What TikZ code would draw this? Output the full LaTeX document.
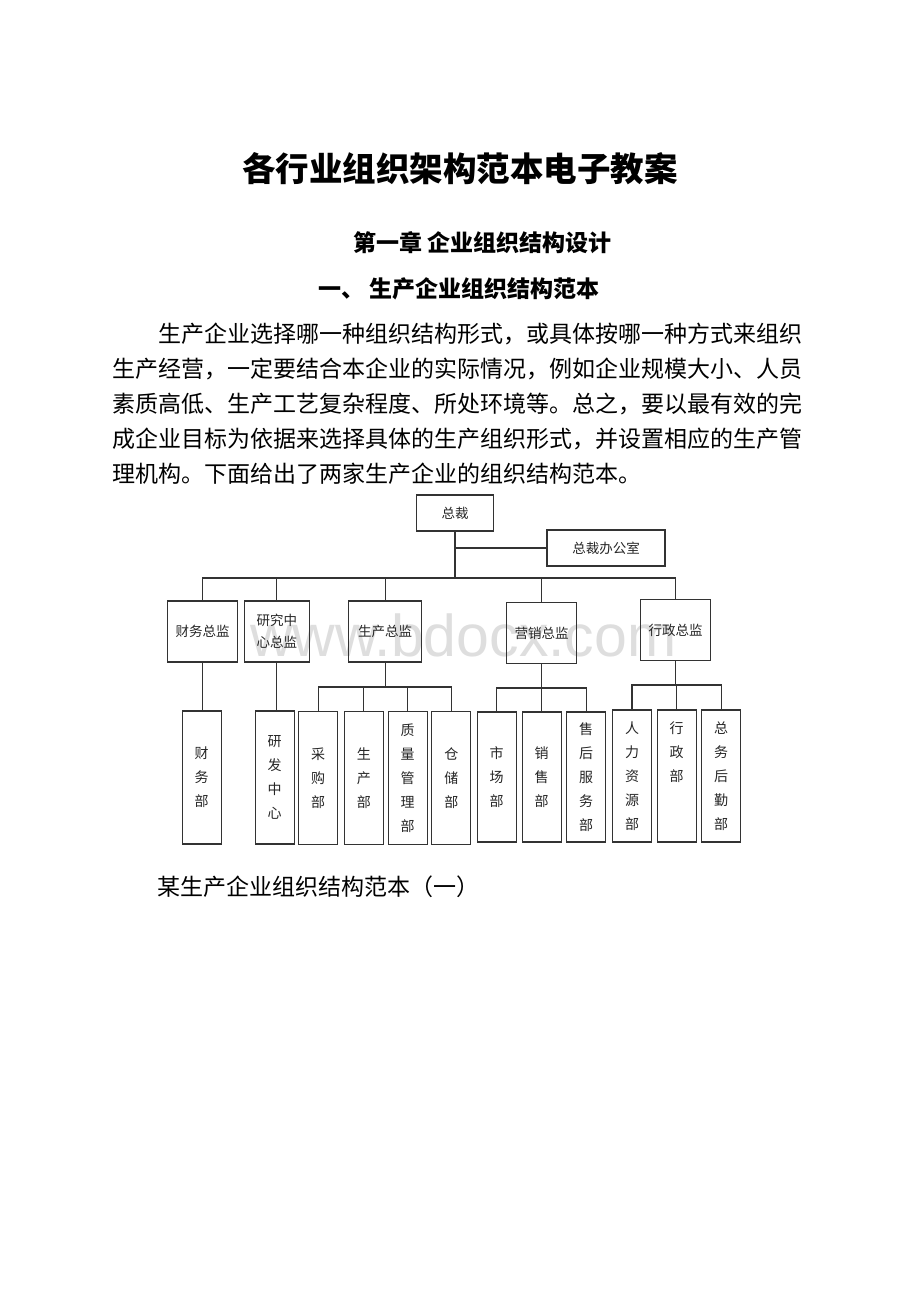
\documentclass[tikz,border=0pt]{standalone}
\usepackage{fontspec}
\setmainfont{Liberation Serif}
\newfontfamily\cjk{Noto Sans CJK SC}
\newfontfamily\wmfont{Liberation Sans}
\begin{document}
\begin{tikzpicture}[x=1pt,y=-1pt,
  line/.style={draw=black!80, line width=1.2pt, line cap=rect},
  box/.style={draw=black!80, line width=1.2pt, inner sep=0pt, align=center,
    font=\cjk\fontsize{13.5}{22}\selectfont, text=black!85},
  l2/.style={box, minimum height=61pt},
  vbox/.style={box, minimum width=39pt, minimum height=133pt,
    font=\cjk\fontsize{14}{24}\selectfont},
  para/.style={anchor=west, inner sep=0pt, font=\cjk\fontsize{23}{23}\selectfont},
  head/.style={anchor=west, inner sep=0pt, font=\cjk\bfseries\fontsize{23}{23}\selectfont}
]
\fill[white] (0,0) rectangle (920,1302);
\useasboundingbox (0,0) rectangle (920,1302);

% headings
\node[inner sep=0pt, font=\cjk\bfseries\fontsize{33.5}{33.5}\selectfont] (title) at (460,169) {各行业组织架构范本电子教案};
\node[head] (chap) at (353,243) {第一章 企业组织结构设计};
\node[head] (sect) at (318,289) {一、 生产企业组织结构范本};

% paragraph
\node[para] (p1) at (158,334) {生产企业选择哪一种组织结构形式，或具体按哪一种方式来组织};
\node[para] (p2) at (112,369) {生产经营，一定要结合本企业的实际情况，例如企业规模大小、人员};
\node[para] (p3) at (112,404) {素质高低、生产工艺复杂程度、所处环境等。总之，要以最有效的完};
\node[para] (p4) at (112,439) {成企业目标为依据来选择具体的生产组织形式，并设置相应的生产管};
\node[para] (p5) at (112,474) {理机构。下面给出了两家生产企业的组织结构范本。};

% watermark
\node[anchor=base west, inner sep=0pt, font=\wmfont\fontsize{59}{59}\selectfont, text=black!13] (wm) at (250,656) {www.bdocx.com};

% level 1
\node[box, minimum width=77pt, minimum height=36pt] (zc) at (455,513) {总裁};
\node[box, minimum width=118pt, minimum height=36pt] (office) at (606,548) {总裁办公室};

% level 2
\node[l2, minimum width=70pt] (cwzj) at (202.7,631.5) {财务总监};
\node[l2, minimum width=65pt] (yjzj) at (276.8,631.5) {研究中\\心总监};
\node[l2, minimum width=73pt] (sczj) at (385.2,631.5) {生产总监};
\node[l2, minimum width=70pt] (yxzj) at (541.7,633) {营销总监};
\node[l2, minimum width=70pt] (xzzj) at (675.7,630) {行政总监};

\coordinate (bus) at (0,578);
\draw[line] (zc.south) -- (zc.south |- bus);
\draw[line] (zc.south |- office.west) -- (office.west);
\draw[line] (cwzj.north) -- (cwzj.north |- bus) -- (xzzj.north |- bus) -- (xzzj.north);
\foreach \n in {yjzj,sczj,yxzj} \draw[line] (\n.north) -- (\n.north |- bus);

% level 3
\node[vbox] (cwb) at (201.7,777.5) {财\\务\\部};
\node[vbox] (yfzx) at (274.7,777.5) {研\\发\\中\\心};
\draw[line] (cwzj.south) -- (cwzj.south |- cwb.north);
\draw[line] (yjzj.south) -- (yjzj.south |- yfzx.north);

\node[vbox] (cgb) at (318.2,777.8) {采\\购\\部};
\node[vbox] (scb) at (363.8,777.8) {生\\产\\部};
\node[vbox] (zlb) at (407.7,777.8) {质\\量\\管\\理\\部};
\node[vbox] (ccb) at (451.3,777.8) {仓\\储\\部};
\coordinate (busA) at (0,687);
\draw[line] (sczj.south) -- (sczj.south |- busA);
\draw[line] (cgb.north) -- (cgb.north |- busA) -- (ccb.north |- busA) -- (ccb.north);
\foreach \n in {scb,zlb} \draw[line] (\n.north) -- (\n.north |- busA);

\node[vbox, minimum height=130pt] (scbm) at (496.7,777) {市\\场\\部};
\node[vbox, minimum height=130pt] (xsb) at (541.7,777) {销\\售\\部};
\node[vbox, minimum height=130pt] (shb) at (586.2,777) {售\\后\\服\\务\\部};
\coordinate (busB) at (0,688);
\draw[line] (yxzj.south) -- (yxzj.south |- busB);
\draw[line] (scbm.north) -- (scbm.north |- busB) -- (shb.north |- busB) -- (shb.north);
\draw[line] (xsb.north) -- (xsb.north |- busB);

\node[vbox, minimum height=132pt] (rlb) at (632,776) {人\\力\\资\\源\\部};
\node[vbox, minimum height=132pt] (xzb) at (676.7,776) {行\\政\\部\\~\\~};
\node[vbox, minimum height=132pt] (zwb) at (721.2,776) {总\\务\\后\\勤\\部};
\coordinate (busC) at (0,685);
\draw[line] (xzzj.south) -- (xzzj.south |- busC);
\draw[line] (rlb.north) -- (rlb.north |- busC) -- (zwb.north |- busC) -- (zwb.north);
\draw[line] (xzb.north) -- (xzb.north |- busC);

% caption
\node[para] (cap) at (157,887) {某生产企业组织结构范本（一）};
\end{tikzpicture}
\end{document}
